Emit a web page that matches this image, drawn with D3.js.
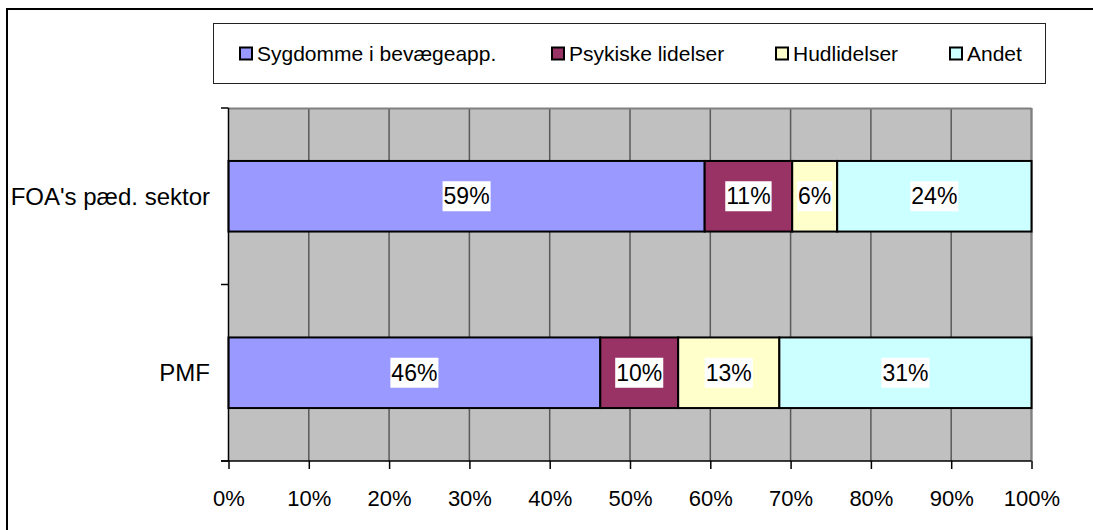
<!DOCTYPE html>
<html>
<head>
<meta charset="utf-8">
<script src="https://cdn.jsdelivr.net/npm/d3@7"></script>
<style>
  html, body { margin: 0; padding: 0; background: #fff; }
  svg { display: block; font-family: "Liberation Sans", Arial, sans-serif; }
</style>
</head>
<body>
<svg id="chart" width="1093" height="530"></svg>
<script>
// ---- data ----
const categories = ["FOA's pæd. sektor", "PMF"];
const seriesNames = ["Sygdomme i bevægeapp.", "Psykiske lidelser", "Hudlidelser", "Andet"];
const seriesColors = ["#9999FF", "#993366", "#FFFFCC", "#CCFFFF"];
const foaValues = [59.3, 10.9, 5.6, 24.2];
const pmfValues = [46.3, 9.7, 12.6, 31.4];
const xTicks = [0, 10, 20, 30, 40, 50, 60, 70, 80, 90, 100];

const values = [foaValues, pmfValues];

const svg = d3.select("#chart");

// outer frame
svg.append("rect")
  .attr("x", 7).attr("y", 9).attr("width", 1200).attr("height", 600)
  .attr("fill", "none").attr("stroke", "#000").attr("stroke-width", 2);

// scales
const x = d3.scaleLinear().domain([0, 100]).range([228.5, 1031.5]);
const y = d3.scaleBand().domain(categories).range([108, 461]).paddingInner(0.6).paddingOuter(0.3);

// plot background
svg.append("rect")
  .attr("x", x(0)).attr("y", 108).attr("width", x(100) - x(0)).attr("height", 461 - 108)
  .attr("fill", "#C0C0C0");

// gridlines
svg.append("g").selectAll("line").data(xTicks.slice(1)).join("line")
  .attr("x1", d => x(d)).attr("x2", d => x(d))
  .attr("y1", 108).attr("y2", 461)
  .attr("stroke", "#5a5a5a").attr("stroke-width", 1.5);

// plot top/right border
svg.append("line").attr("x1", x(0)).attr("x2", x(100)).attr("y1", 108.5).attr("y2", 108.5)
  .attr("stroke", "#808080").attr("stroke-width", 2);
svg.append("line").attr("x1", x(100)).attr("x2", x(100)).attr("y1", 108).attr("y2", 461)
  .attr("stroke", "#808080").attr("stroke-width", 2);

// bars
const stackData = categories.map((c, i) => {
  let acc = 0;
  return values[i].map((v, j) => {
    const s = { cat: c, series: j, x0: acc, x1: acc + v, v: v };
    acc += v;
    return s;
  });
}).flat();

const barG = svg.append("g");
barG.selectAll("rect").data(stackData).join("rect")
  .attr("x", d => x(d.x0)).attr("y", d => y(d.cat))
  .attr("width", d => x(d.x1) - x(d.x0)).attr("height", y.bandwidth())
  .attr("fill", d => seriesColors[d.series])
  .attr("stroke", "#000").attr("stroke-width", 2);

// bar labels with white boxes
const lblG = svg.append("g");
stackData.forEach(d => {
  const g = lblG.append("g");
  const cx = (x(d.x0) + x(d.x1)) / 2;
  const cy = y(d.cat) + y.bandwidth() / 2;
  const t = g.append("text")
    .attr("x", cx).attr("y", cy + 8)
    .attr("text-anchor", "middle")
    .attr("font-size", 23).attr("fill", "#000")
    .text(Math.round(d.v) + "%");
  const bb = t.node().getBBox();
  g.insert("rect", "text")
    .attr("x", bb.x - 1).attr("y", cy - 15)
    .attr("width", bb.width + 2).attr("height", 30)
    .attr("fill", "#fff");
});

// y axis
svg.append("line").attr("x1", x(0)).attr("x2", x(0)).attr("y1", 108).attr("y2", 461)
  .attr("stroke", "#000").attr("stroke-width", 1.5);
const yTickPos = [108, 108 + y.step(), 461];
svg.append("g").selectAll("line").data(yTickPos).join("line")
  .attr("x1", 221).attr("x2", x(0)).attr("y1", d => d).attr("y2", d => d)
  .attr("stroke", "#000").attr("stroke-width", 1.5);

// category labels
svg.append("g").selectAll("text").data(categories).join("text")
  .attr("x", 210).attr("y", d => y(d) + y.bandwidth() / 2 + 8.5)
  .attr("text-anchor", "end").attr("font-size", 24).attr("fill", "#000")
  .text(d => d);

// x axis
const xAxis = d3.axisBottom(x).tickValues(xTicks).tickFormat(d => d + "%").tickSize(8).tickPadding(21);
const xg = svg.append("g").attr("transform", "translate(0,461)").call(xAxis);
xg.select(".domain").attr("d", `M221,0H${x(100)}`).attr("stroke", "#000").attr("stroke-width", 1.5);
xg.selectAll(".tick line").attr("stroke", "#000").attr("stroke-width", 1.5);
xg.selectAll(".tick text").attr("font-size", 22).attr("fill", "#000")
  .attr("font-family", "Liberation Sans, Arial, sans-serif");

// legend
svg.append("rect")
  .attr("x", 213.5).attr("y", 23.5).attr("width", 832).attr("height", 60)
  .attr("fill", "#fff").attr("stroke", "#222").attr("stroke-width", 1);
const legendX = [239, 551, 775, 949];
const leg = svg.append("g").selectAll("g").data(seriesNames).join("g")
  .attr("transform", (d, i) => `translate(${legendX[i]},0)`);
leg.append("rect")
  .attr("x", 1).attr("y", 47.5).attr("width", 12).attr("height", 12)
  .attr("fill", (d, i) => seriesColors[i]).attr("stroke", "#000").attr("stroke-width", 2);
leg.append("text")
  .attr("x", 18).attr("y", 61)
  .attr("font-size", 21).attr("fill", "#000")
  .text(d => d);
</script>
</body>
</html>
